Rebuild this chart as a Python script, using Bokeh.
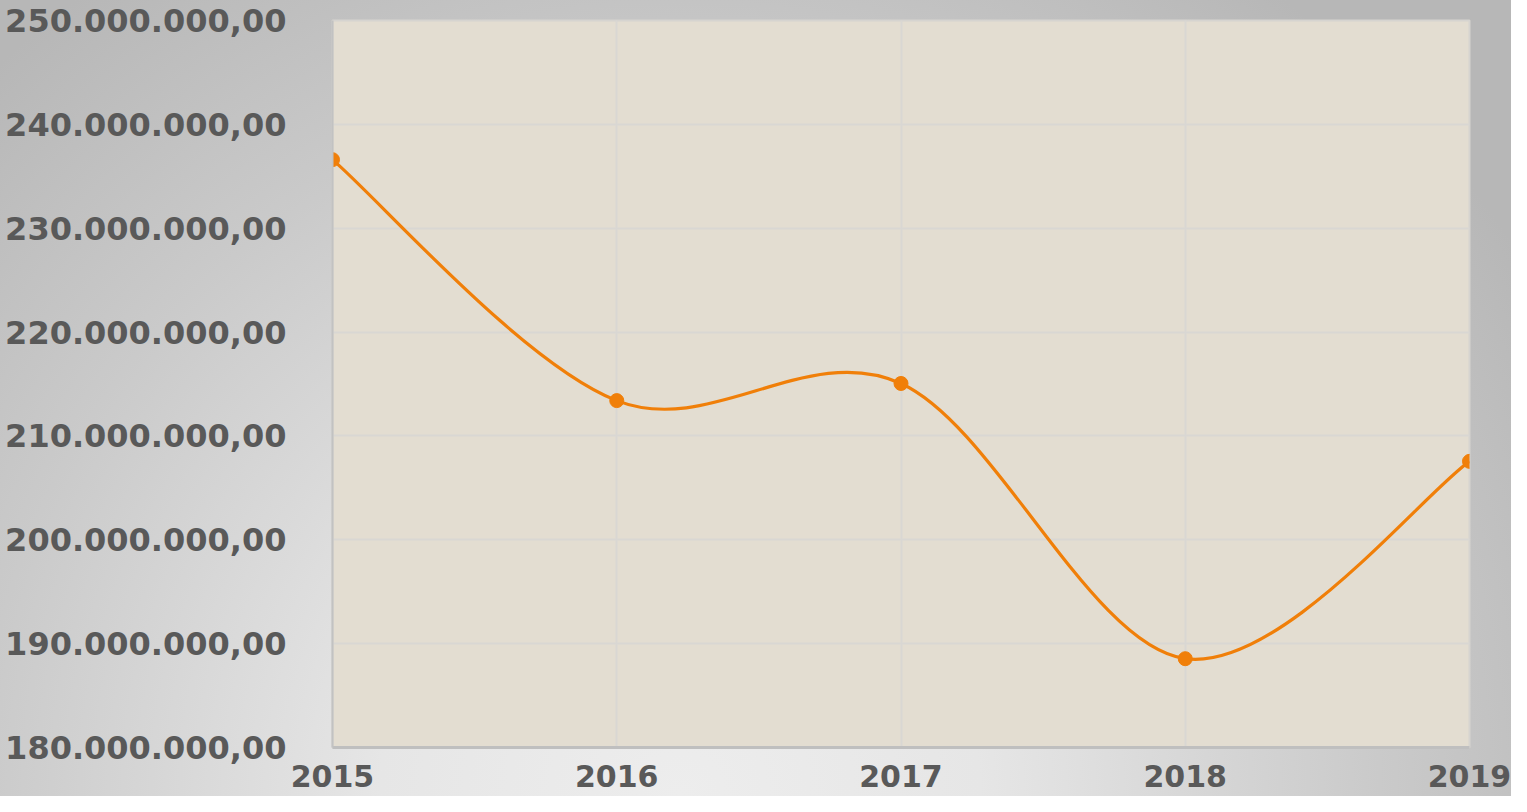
from bokeh.plotting import figure
from bokeh.models import FixedTicker, ColumnDataSource
from bokeh.embed import file_html
from bokeh.resources import INLINE

years = [2015, 2016, 2017, 2018, 2019]
values = [236.6e6, 213.4e6, 215.05e6, 188.55e6, 207.55e6]
y_ticks = [180e6, 190e6, 200e6, 210e6, 220e6, 230e6, 240e6, 250e6]
y_tick_labels = ["180.000.000,00", "190.000.000,00", "200.000.000,00", "210.000.000,00",
                 "220.000.000,00", "230.000.000,00", "240.000.000,00", "250.000.000,00"]
x_tick_labels = ["2015", "2016", "2017", "2018", "2019"]

ORANGE = "#f07f09"
LABEL = "#595959"

p = figure(width=1511, height=796, output_backend="svg", toolbar_location=None,
           x_range=(years[0], years[-1]), y_range=(y_ticks[0], y_ticks[-1]),
           min_border_left=332, min_border_right=42, min_border_top=20, min_border_bottom=49)

p.styles = {"background": "radial-gradient(circle 1000px at 45% 100%, #ededed 0%, #e6e6e6 30%, #cacaca 70%, #b7b7b7 100%)"}
p.border_fill_color = None
p.background_fill_color = "#e3ddd1"
p.outline_line_color = "#d6d4d0"
p.outline_line_width = 2

# Smoothed (Catmull-Rom style) curve built from the data points
n = len(years)
x0s, y0s, x1s, y1s, cx0s, cy0s, cx1s, cy1s = [], [], [], [], [], [], [], []
for i in range(n - 1):
    pm = max(i - 1, 0)
    pp = min(i + 2, n - 1)
    x0s.append(years[i]); y0s.append(values[i])
    x1s.append(years[i + 1]); y1s.append(values[i + 1])
    cx0s.append(years[i] + (years[i + 1] - years[pm]) / 6)
    cy0s.append(values[i] + (values[i + 1] - values[pm]) / 6)
    cx1s.append(years[i + 1] - (years[pp] - years[i]) / 6)
    cy1s.append(values[i + 1] - (values[pp] - values[i]) / 6)

bsrc = ColumnDataSource(dict(x0=x0s, y0=y0s, x1=x1s, y1=y1s, cx0=cx0s, cy0=cy0s, cx1=cx1s, cy1=cy1s))
p.bezier(x0="x0", y0="y0", x1="x1", y1="y1", cx0="cx0", cy0="cy0", cx1="cx1", cy1="cy1",
         source=bsrc, line_color=ORANGE, line_width=3.2)
p.scatter(years, values, size=14, fill_color=ORANGE, line_color=ORANGE)

# Axes
p.xaxis.ticker = FixedTicker(ticks=years)
p.xaxis.major_label_overrides = {y: l for y, l in zip(years, x_tick_labels)}
p.yaxis.ticker = FixedTicker(ticks=y_ticks)
p.yaxis.major_label_overrides = {t: l for t, l in zip(y_ticks, y_tick_labels)}

for ax in (p.xaxis[0], p.yaxis[0]):
    ax.major_label_text_font = "DejaVu Sans"
    ax.major_label_text_font_style = "bold"
    ax.major_label_text_font_size = "32px"
    ax.major_label_text_color = LABEL
    ax.major_tick_line_color = None
    ax.minor_tick_line_color = None

p.yaxis.axis_line_color = "#c2c2c2"
p.yaxis.axis_line_width = 2
p.yaxis.major_label_standoff = 40
p.xaxis.axis_line_color = "#bfbfbf"
p.xaxis.axis_line_width = 3
p.xaxis.major_label_standoff = 11
p.xaxis.major_label_text_font_size = "30px"

p.xgrid.grid_line_color = "#d9d7d3"
p.ygrid.grid_line_color = "#d9d7d3"
p.xgrid.grid_line_width = 2
p.ygrid.grid_line_width = 2

open("out.html", "w").write(file_html(p, INLINE))
